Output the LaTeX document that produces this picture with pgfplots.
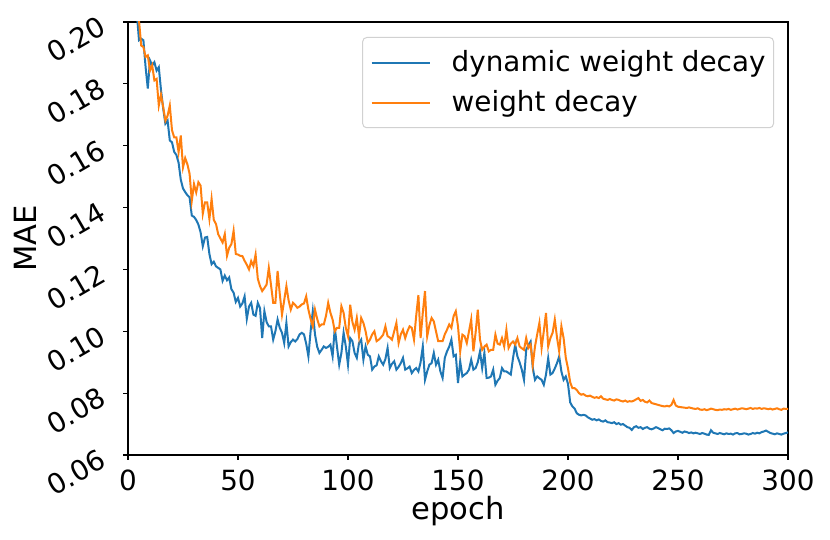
\documentclass[border=0pt]{standalone}
\usepackage{fontspec}
\setmainfont{DejaVu Sans}
\usepackage{pgfplots}
\pgfplotsset{compat=1.18}
\definecolor{tabblue}{HTML}{1F77B4}
\definecolor{taborange}{HTML}{FF7F0E}
\begin{document}
\begin{tikzpicture}
\path[use as bounding box] (-64pt,-42.5pt) rectangle (351pt,227.5pt);
\begin{axis}[
  at={(0,0)}, anchor=south west,
  scale only axis, width=330pt, height=216.5pt,
  xmin=0, xmax=300, ymin=0.06, ymax=0.20,
  xtick={0,50,100,150,200,250,300},
  ytick={0.06,0.08,0.10,0.12,0.14,0.16,0.18,0.20},
  tick align=outside, tick pos=left,
  major tick length=2.45pt,
  every tick/.style={black, line width=0.55pt},
  axis line style={line width=1.3pt},
  /pgf/number format/assume math mode=true,
  tick label style={font=\fontsize{13.9}{16}\selectfont},
  yticklabel={\pgfmathprintnumber[fixed,fixed zerofill,precision=2]{\tick}},
  yticklabel style={xshift=-10pt, yshift=-1pt, rotate=30, anchor=east, inner sep=0pt},
  xticklabel style={yshift=-5pt, anchor=north, inner sep=0pt},
  scaled y ticks=false,
  xlabel={epoch}, ylabel={MAE},
  label style={font=\fontsize{15.3}{18}\selectfont},
  xlabel style={at={(axis description cs:0.5,-0.1501)}, anchor=base, inner sep=0pt},
  ylabel style={at={(axis description cs:-0.1379,0.5)}, anchor=base, inner sep=0pt},
  legend style={at={(1,1)}, anchor=north east, xshift=-7pt, yshift=-7.5pt,
    draw=black!18, rounded corners=2pt, line width=0.5pt,
    fill=white, inner xsep=4pt, inner ysep=6.5pt,
    row sep=8pt, column sep=10.5pt,
    font=\fontsize{13.9}{16}\selectfont,
    nodes={inner sep=0pt}},
  legend cell align=left,
  legend image code/.code={\draw[#1] (0pt,0pt) -- (29pt,0pt);},
]
\addplot[tabblue, line width=1pt] coordinates {
(1,0.30)(2,0.25)(3,0.215)(4,0.203)(5,0.1941)(6,0.1946)(7,0.1941)(8,0.1854)(9,0.1785)(10,0.1876)
(11,0.1860)(12,0.1870)(13,0.1843)(14,0.1854)(15,0.1780)(16,0.1720)(17,0.1671)(18,0.1681)(19,0.1617)(20,0.1611)
(21,0.1580)(22,0.1570)(23,0.1545)(24,0.1490)(25,0.1462)(26,0.1450)(27,0.1440)(28,0.1433)(29,0.1374)(30,0.1370)
(31,0.1360)(32,0.1345)(33,0.1320)(34,0.1275)(35,0.1303)(36,0.1305)(37,0.1250)(38,0.1217)(39,0.1225)(40,0.1210)
(41,0.1205)(42,0.1200)(43,0.1163)(44,0.1180)(45,0.1165)(46,0.1174)(47,0.1136)(48,0.1125)(49,0.1095)(50,0.1108)
(51,0.1080)(52,0.1090)(53,0.1113)(54,0.1040)(55,0.1080)(56,0.1092)(57,0.1054)(58,0.1050)(59,0.1092)(60,0.1075)
(61,0.0978)(62,0.1065)(63,0.1030)(64,0.1016)(65,0.1016)(66,0.0973)(67,0.1000)(68,0.1038)(69,0.1011)(70,0.0995)
(71,0.0962)(72,0.1027)(73,0.0951)(74,0.0965)(75,0.0973)(76,0.0967)(77,0.0975)(78,0.0990)(79,0.0995)(80,0.0990)
(81,0.0960)(82,0.0919)(83,0.1000)(84,0.1065)(85,0.0990)(86,0.0950)(87,0.0930)(88,0.0940)(89,0.0951)(90,0.0946)
(91,0.0950)(92,0.0957)(93,0.0919)(94,0.1011)(95,0.0950)(96,0.0892)(97,0.0930)(98,0.0995)(99,0.0951)(100,0.0892)
(101,0.0978)(102,0.0968)(103,0.0930)(104,0.0914)(105,0.0962)(106,0.0973)(107,0.0908)(108,0.0951)(109,0.0924)(110,0.0919)
(111,0.0876)(112,0.0886)(113,0.0890)(114,0.0919)(115,0.0903)(116,0.0892)(117,0.0910)(118,0.0946)(119,0.0881)(120,0.0895)
(121,0.0903)(122,0.0876)(123,0.0885)(124,0.0897)(125,0.0914)(126,0.0876)(127,0.0880)(128,0.0886)(129,0.0865)(130,0.0875)
(131,0.0881)(132,0.0870)(133,0.0900)(134,0.0951)(135,0.0843)(136,0.0870)(137,0.0892)(138,0.0897)(139,0.0930)(140,0.0892)
(141,0.0908)(142,0.0870)(143,0.0849)(144,0.0914)(145,0.0935)(146,0.0950)(147,0.0973)(148,0.0919)(149,0.0924)(150,0.0833)
(151,0.0903)(152,0.0854)(153,0.0860)(154,0.0865)(155,0.0876)(156,0.0908)(157,0.0876)(158,0.0881)(159,0.0900)(160,0.0935)
(161,0.0881)(162,0.0930)(163,0.0849)(164,0.0850)(165,0.0854)(166,0.0876)(167,0.0827)(168,0.0840)(169,0.0849)(170,0.0881)
(171,0.0870)(172,0.0870)(173,0.0865)(174,0.0860)(175,0.0913)(176,0.0957)(177,0.0919)(178,0.0900)(179,0.0876)(180,0.0843)
(181,0.0940)(182,0.0955)(183,0.0967)(184,0.0881)(185,0.0843)(186,0.0854)(187,0.0848)(188,0.0843)(189,0.0827)(190,0.0860)
(191,0.0913)(192,0.0860)(193,0.0865)(194,0.0880)(195,0.0897)(196,0.0919)(197,0.0870)(198,0.0843)(199,0.0854)(200,0.0830)
(201,0.0770)(202,0.0757)(203,0.0750)(204,0.0735)(205,0.0730)(206,0.0728)(207,0.0730)(208,0.0728)(209,0.0722)(210,0.0718)
(211,0.0714)(212,0.0716)(213,0.0712)(214,0.0715)(215,0.0710)(216,0.0708)(217,0.0712)(218,0.0706)(219,0.0705)(220,0.0703)
(221,0.0706)(222,0.0700)(223,0.0703)(224,0.0698)(225,0.0700)(226,0.0695)(227,0.0690)(228,0.0688)(229,0.0681)(230,0.0690)
(231,0.0693)(232,0.0688)(233,0.0690)(234,0.0684)(235,0.0688)(236,0.0690)(237,0.0685)(238,0.0683)(239,0.0686)(240,0.0690)
(241,0.0687)(242,0.0683)(243,0.0680)(244,0.0685)(245,0.0684)(246,0.0686)(247,0.0680)(248,0.0671)(249,0.0676)(250,0.0678)
(251,0.0675)(252,0.0672)(253,0.0676)(254,0.0674)(255,0.0671)(256,0.0673)(257,0.0670)(258,0.0672)(259,0.0670)(260,0.0668)
(261,0.0671)(262,0.0669)(263,0.0666)(264,0.0665)(265,0.0680)(266,0.0672)(267,0.0670)(268,0.0668)(269,0.0671)(270,0.0669)
(271,0.0667)(272,0.0670)(273,0.0668)(274,0.0669)(275,0.0666)(276,0.0670)(277,0.0671)(278,0.0667)(279,0.0668)(280,0.0670)
(281,0.0669)(282,0.0666)(283,0.0668)(284,0.0671)(285,0.0669)(286,0.0672)(287,0.0670)(288,0.0674)(289,0.0676)(290,0.0679)
(291,0.0675)(292,0.0671)(293,0.0669)(294,0.0667)(295,0.0670)(296,0.0668)(297,0.0666)(298,0.0669)(299,0.0671)(300,0.0673)
};
\addlegendentry{dynamic weight decay}
\addplot[taborange, line width=1pt] coordinates {
(1,0.32)(2,0.26)(3,0.225)(4,0.208)(5,0.2005)(6,0.1924)(7,0.1919)(8,0.1887)(9,0.1892)(10,0.1843)
(11,0.1860)(12,0.1811)(13,0.1816)(14,0.1730)(15,0.1765)(16,0.1725)(17,0.1681)(18,0.1697)(19,0.1730)(20,0.1650)
(21,0.1627)(22,0.1627)(23,0.1579)(24,0.1633)(25,0.1530)(26,0.1560)(27,0.1540)(28,0.1509)(29,0.1422)(30,0.1476)
(31,0.1449)(32,0.1482)(33,0.1471)(34,0.1380)(35,0.1417)(36,0.1417)(37,0.1363)(38,0.1428)(39,0.1360)(40,0.1347)
(41,0.1314)(42,0.1300)(43,0.1287)(44,0.1314)(45,0.1244)(46,0.1270)(47,0.1282)(48,0.1325)(49,0.1250)(50,0.1248)
(51,0.1244)(52,0.1243)(53,0.1228)(54,0.1215)(55,0.1200)(56,0.1227)(57,0.1211)(58,0.1248)(59,0.1170)(60,0.1146)
(61,0.1130)(62,0.1140)(63,0.1151)(64,0.1205)(65,0.1150)(66,0.1092)(67,0.1092)(68,0.1195)(69,0.1120)(70,0.1054)
(71,0.1100)(72,0.1146)(73,0.1100)(74,0.1070)(75,0.1092)(76,0.1085)(77,0.1076)(78,0.1080)(79,0.1087)(80,0.1090)
(81,0.1113)(82,0.1070)(83,0.1040)(84,0.1016)(85,0.1070)(86,0.1040)(87,0.1016)(88,0.1022)(89,0.1022)(90,0.1050)
(91,0.1092)(92,0.1060)(93,0.1038)(94,0.1000)(95,0.1011)(96,0.1011)(97,0.1081)(98,0.1060)(99,0.1011)(100,0.0984)
(101,0.1086)(102,0.1030)(103,0.1005)(104,0.1043)(105,0.0984)(106,0.1043)(107,0.1027)(108,0.1000)(109,0.0962)(110,0.0973)
(111,0.0990)(112,0.1000)(113,0.0968)(114,0.0973)(115,0.0980)(116,0.0989)(117,0.1016)(118,0.0984)(119,0.0980)(120,0.0973)
(121,0.1000)(122,0.1027)(123,0.0962)(124,0.0990)(125,0.1005)(126,0.0978)(127,0.1000)(128,0.1016)(129,0.1011)(130,0.0973)
(131,0.1050)(132,0.1117)(133,0.0978)(134,0.1060)(135,0.1130)(136,0.0984)(137,0.1020)(138,0.1043)(139,0.1032)(140,0.1000)
(141,0.0968)(142,0.0968)(143,0.0968)(144,0.0990)(145,0.1005)(146,0.1022)(147,0.1011)(148,0.1049)(149,0.1065)(150,0.1016)
(151,0.0935)(152,0.0989)(153,0.0984)(154,0.0962)(155,0.1000)(156,0.1038)(157,0.0935)(158,0.0995)(159,0.1070)(160,0.0973)
(161,0.0940)(162,0.0950)(163,0.0957)(164,0.0935)(165,0.0940)(166,0.0940)(167,0.0989)(168,0.0960)(169,0.0957)(170,0.0978)
(171,0.0951)(172,0.1005)(173,0.0946)(174,0.0960)(175,0.0967)(176,0.0957)(177,0.0978)(178,0.0951)(179,0.0945)(180,0.0940)
(181,0.0978)(182,0.0946)(183,0.0957)(184,0.0892)(185,0.0951)(186,0.0990)(187,0.1027)(188,0.0946)(189,0.1000)(190,0.1059)
(191,0.0951)(192,0.0978)(193,0.0995)(194,0.1038)(195,0.0980)(196,0.0935)(197,0.1016)(198,0.0978)(199,0.0914)(200,0.0880)
(201,0.0835)(202,0.0816)(203,0.0816)(204,0.0810)(205,0.0800)(206,0.0795)(207,0.0797)(208,0.0792)(209,0.0790)(210,0.0792)
(211,0.0788)(212,0.0785)(213,0.0787)(214,0.0784)(215,0.0790)(216,0.0782)(217,0.0780)(218,0.0778)(219,0.0781)(220,0.0778)
(221,0.0776)(222,0.0780)(223,0.0778)(224,0.0775)(225,0.0773)(226,0.0776)(227,0.0772)(228,0.0774)(229,0.0773)(230,0.0776)
(231,0.0780)(232,0.0784)(233,0.0775)(234,0.0778)(235,0.0772)(236,0.0770)(237,0.0776)(238,0.0768)(239,0.0766)(240,0.0764)
(241,0.0762)(242,0.0760)(243,0.0758)(244,0.0757)(245,0.0759)(246,0.0757)(247,0.0762)(248,0.0778)(249,0.0760)(250,0.0756)
(251,0.0755)(252,0.0754)(253,0.0753)(254,0.0752)(255,0.0754)(256,0.0752)(257,0.0750)(258,0.0749)(259,0.0751)(260,0.0747)
(261,0.0746)(262,0.0748)(263,0.0745)(264,0.0747)(265,0.0750)(266,0.0748)(267,0.0746)(268,0.0745)(269,0.0747)(270,0.0746)
(271,0.0748)(272,0.0747)(273,0.0749)(274,0.0746)(275,0.0748)(276,0.0750)(277,0.0747)(278,0.0749)(279,0.0751)(280,0.0750)
(281,0.0748)(282,0.0750)(283,0.0752)(284,0.0749)(285,0.0751)(286,0.0750)(287,0.0752)(288,0.0749)(289,0.0751)(290,0.0750)
(291,0.0748)(292,0.0750)(293,0.0747)(294,0.0749)(295,0.0751)(296,0.0748)(297,0.0746)(298,0.0750)(299,0.0749)(300,0.0749)
};
\addlegendentry{weight decay}
\end{axis}
\end{tikzpicture}
\end{document}
